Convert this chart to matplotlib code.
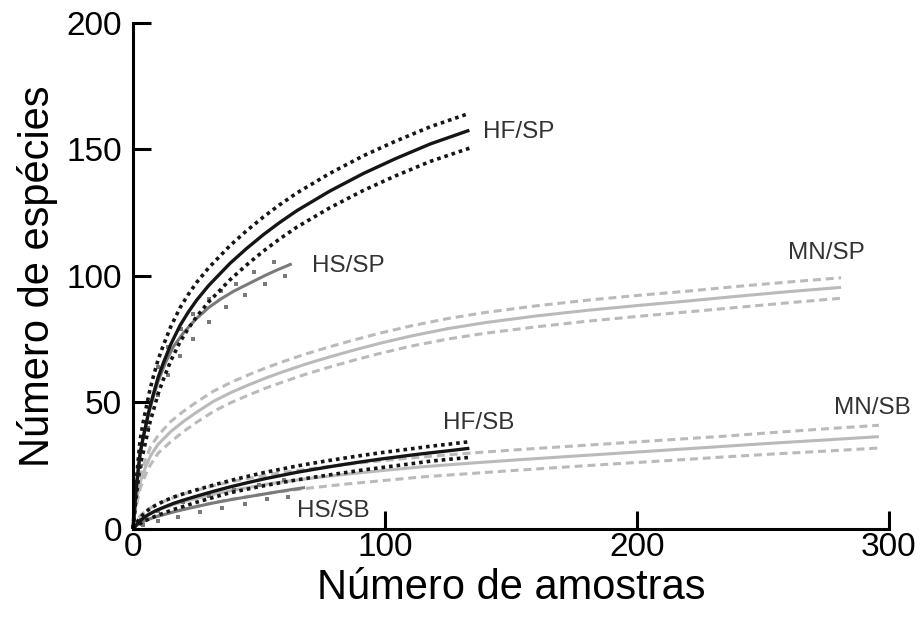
import matplotlib.pyplot as plt

# Rarefaction curves | Número de espécies vs Número de amostras

plt.rcParams['font.family'] = ['Liberation Sans', 'DejaVu Sans']

# -----------------------------------------
# Data
# -----------------------------------------

# HF/SP (black, dotted confidence band)
hf_sp_x = [0, 0.5, 1.2, 2.8, 4, 6.7, 8, 10, 12, 15, 18.7, 22, 25.3, 30, 38.5, 45, 51.7, 58,
           65, 78, 91.4, 104, 118, 133.5]
hf_sp_y = [0, 6, 15, 30, 36, 48.3, 53, 60, 65.5, 73, 80.5, 85.8, 90.5, 96.2, 105, 110.8,
           116.3, 121, 125.8, 133.5, 140.5, 146.3, 152.2, 157.6]
hf_sp_hi = [0, 7.5, 18, 35, 42, 55, 60, 67, 72.5, 80, 87.5, 92.8, 97.5, 103.2, 112, 117.8,
            123.3, 128, 132.8, 140.5, 147.5, 153.2, 159, 164.3]
hf_sp_lo = [0, 4.5, 12, 25, 30, 42, 46.5, 53.5, 59, 66.5, 74, 79.3, 84, 89.7, 98.5, 104.3,
            109.8, 114.5, 119.3, 126.9, 133.8, 139.5, 145.3, 150.5]

# HS/SP (dark grey, sparse dots)
hs_sp_x = [0, 0.5, 1.2, 2.5, 4, 6, 8, 10, 13, 16, 20, 25, 30, 35, 40, 46, 52, 57, 63]
hs_sp_y = [0, 7, 17, 27, 36, 45, 52, 58.5, 66, 72, 77.5, 83, 87.5, 91, 94, 97, 100, 102.3, 104.8]
hs_sp_hi_x = [10, 14, 19, 24, 30, 35, 41, 48, 56]
hs_sp_hi = [64, 72, 79, 85, 91, 94, 97, 101.7, 105.5]
hs_sp_lo_x = [3, 6, 10, 14, 18.7, 23.9, 30.2, 37, 44.4, 52.4, 60.3]
hs_sp_lo = [25, 40, 53, 61, 68.4, 75, 82, 87.6, 92.5, 96.8, 100]

# MN/SP (light grey, dashed confidence band)
mn_sp_x = [0, 0.5, 1.5, 3, 5, 7, 10, 15, 20, 25, 32, 39, 46, 53, 60, 68, 78, 88, 98, 110,
           125, 140, 160, 180, 200, 220, 240, 260, 281]
mn_sp_y = [0, 6, 12, 19, 24.5, 29, 33.5, 38.5, 42.5, 46, 50.5, 54, 57, 59.8, 62.3, 65, 68,
           70.8, 73.4, 76.2, 79.2, 81.6, 84.2, 86.4, 88.3, 90.1, 92, 93.8, 95.5]
mn_sp_hi = [0, 7, 14, 21.5, 27.5, 32.5, 37, 42.5, 46.5, 50, 54.5, 58, 61, 63.8, 66.3, 69, 72,
            74.8, 77.4, 80.2, 83.2, 85.6, 88.2, 90.4, 92.3, 94, 95.9, 97.6, 99.3]
mn_sp_lo = [0, 5, 10, 16.5, 21.5, 25.5, 30, 34.5, 38.5, 42, 46.5, 50, 53, 55.8, 58.3, 61,
            64, 66.8, 69.4, 72.2, 75.1, 77.4, 79.9, 82.1, 84, 85.8, 87.6, 89.4, 91.2]

# HF/SB (black, dotted confidence band)
hf_sb_x = [0, 1, 2, 4, 6, 9, 12, 16, 20, 25, 32, 38, 45, 52, 58, 65, 72, 78, 85, 91, 98,
           105, 112, 118, 126, 133.5]
hf_sb_y = [0, 1.3, 2.4, 4.2, 5.6, 7.2, 8.5, 10.1, 11.4, 12.9, 14.9, 16.5, 18.2, 19.8, 21,
           22.4, 23.6, 24.6, 25.7, 26.6, 27.6, 28.5, 29.4, 30.1, 31, 31.9]
hf_sb_hi = [0, 1.8, 3.3, 5.7, 7.5, 9.4, 10.9, 12.6, 13.9, 15.4, 17.4, 19, 20.7, 22.3, 23.5,
            24.9, 26.1, 27.1, 28.2, 29.1, 30.1, 31, 31.9, 32.7, 33.6, 34.5]
hf_sb_lo = [0, 0.8, 1.5, 2.9, 3.8, 5.1, 6.2, 7.7, 8.9, 10.5, 12.5, 14.2, 15.7, 17.1, 18.2,
            19.4, 20.5, 21.4, 22.4, 23.3, 24.2, 25.1, 26, 26.8, 27.6, 28.3]

# HS/SB (dark grey, sparse dots)
hs_sb_x = [0, 1, 3, 6, 9, 12, 16, 20, 25, 30, 35, 40, 46, 52, 58, 63, 68.3]
hs_sb_y = [0, 1, 2.5, 3.8, 4.8, 5.6, 6.7, 7.7, 8.8, 9.9, 10.9, 11.8, 12.8, 13.8, 14.8, 15.6,
           16.4]
hs_sb_hi_x = [3, 10, 20, 30, 40, 50, 60]
hs_sb_hi = [3.5, 7, 10.5, 13, 15.5, 17.5, 19.5]
hs_sb_lo_x = [4, 10, 18, 26.6, 35.2, 44.4, 53, 61.6]
hs_sb_lo = [1.5, 3.2, 4.9, 6.8, 8.2, 9.9, 11.7, 12.8]

# MN/SB (light grey, dashed confidence band)
mn_sb_x = [0, 1, 3, 6, 10, 15, 20, 30, 40, 55, 70, 85, 100, 115, 135, 155, 175, 195, 215,
           235, 255, 275, 296]
mn_sb_y = [0, 2, 4, 5.8, 7.6, 9.3, 10.8, 13.3, 15.4, 18, 20, 21.7, 23.2, 24.6, 26.1, 27.5,
           28.8, 30.1, 31.4, 32.7, 34, 35.2, 36.5]
mn_sb_hi = [0, 2.6, 5.5, 7.8, 10, 12, 13.8, 16.6, 18.9, 21.7, 23.8, 25.6, 27.1, 28.5, 30.1,
            31.5, 32.8, 34.1, 35.4, 36.7, 38.2, 39.6, 41]
mn_sb_lo = [0, 1.4, 2.7, 3.8, 5.2, 6.6, 7.8, 10, 11.9, 14.3, 16.2, 17.8, 19.2, 20.6, 22,
            23.4, 24.7, 26, 27.2, 28.5, 29.7, 30.8, 32]

# curve labels
labels = ['HF/SP', 'HS/SP', 'MN/SP', 'HF/SB', 'HS/SB', 'MN/SB']
label_x = [139, 71, 260, 123, 65, 278]
label_y = [157, 104, 109, 42, 7, 48]

x_ticks = [0, 100, 200, 300]
y_ticks = [0, 50, 100, 150, 200]

# -----------------------------------------
# Styles
# -----------------------------------------

black = '#151515'
dark = '#7a7a7a'
light = '#bababa'
lw = 2.2

fig = plt.figure(figsize=(9.21, 6.23), dpi=100)
ax = fig.add_axes([0.1444, 0.1509, 0.8208, 0.8122])

# light grey MN curves
for xs, ys, hi, lo in [(mn_sp_x, mn_sp_y, mn_sp_hi, mn_sp_lo),
                       (mn_sb_x, mn_sb_y, mn_sb_hi, mn_sb_lo)]:
    ax.plot(xs, ys, color=light, lw=lw, solid_capstyle='butt', clip_on=False)
    ax.plot(xs, hi, color=light, lw=lw, dashes=(2.6, 1.6), clip_on=False)
    ax.plot(xs, lo, color=light, lw=lw, dashes=(2.6, 1.6), clip_on=False)

# dark grey HS curves, band drawn as loose dots
for xs, ys, hx, hi, lx, lo in [(hs_sp_x, hs_sp_y, hs_sp_hi_x, hs_sp_hi, hs_sp_lo_x, hs_sp_lo),
                               (hs_sb_x, hs_sb_y, hs_sb_hi_x, hs_sb_hi, hs_sb_lo_x, hs_sb_lo)]:
    ax.plot(xs, ys, color=dark, lw=lw, solid_capstyle='butt', clip_on=False)
    ax.plot(hx, hi, ls='none', marker='s', ms=3, color=dark, mew=0, clip_on=False)
    ax.plot(lx, lo, ls='none', marker='s', ms=3, color=dark, mew=0, clip_on=False)

# black HF curves
for xs, ys, hi, lo in [(hf_sp_x, hf_sp_y, hf_sp_hi, hf_sp_lo),
                       (hf_sb_x, hf_sb_y, hf_sb_hi, hf_sb_lo)]:
    ax.plot(xs, ys, color=black, lw=2.4, solid_capstyle='butt', clip_on=False)
    ax.plot(xs, hi, color=black, lw=2.6, dashes=(1, 1.1), clip_on=False)
    ax.plot(xs, lo, color=black, lw=2.6, dashes=(1, 1.1), clip_on=False)

for t, tx, ty in zip(labels, label_x, label_y):
    ax.text(tx, ty, t, fontsize=17.5, color='#333333', ha='left', va='center')

# -----------------------------------------
# Axes
# -----------------------------------------

ax.set_xlim(0, 300)
ax.set_ylim(0, 200)
ax.set_xticks(x_ticks)
ax.set_yticks(y_ticks)
ax.spines['top'].set_visible(False)
ax.spines['right'].set_visible(False)
ax.spines['left'].set_linewidth(2.2)
ax.spines['bottom'].set_linewidth(2.2)
ax.tick_params(direction='in', length=13, width=2.2, labelsize=24, colors='black')
ax.tick_params(axis='x', pad=2)
ax.tick_params(axis='y', pad=8)

ax.set_xlabel('Número de amostras', fontsize=30, labelpad=4)
ax.set_ylabel('Número de espécies', fontsize=30, labelpad=6)

fig.savefig('out.png', dpi=100)
